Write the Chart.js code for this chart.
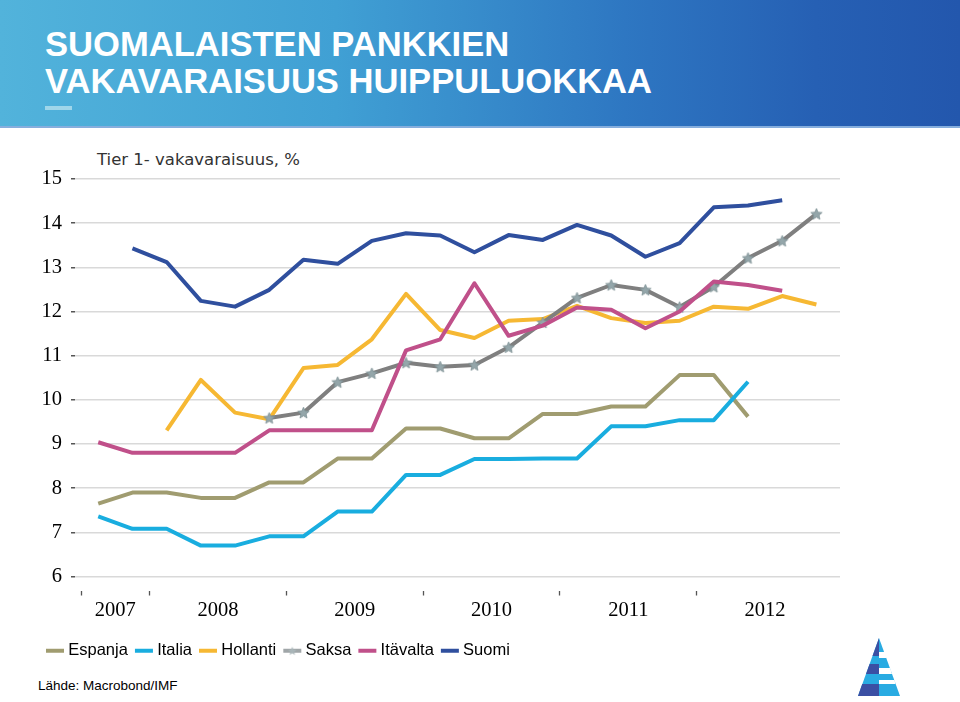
<!DOCTYPE html>
<html><head><meta charset="utf-8">
<script src="https://cdn.jsdelivr.net/npm/chart.js@4.4.1/dist/chart.umd.min.js"></script>
<style>
html,body{margin:0;padding:0;background:#fff;width:960px;height:702px;overflow:hidden;position:relative;font-family:"Liberation Sans",Arial,sans-serif}
#hdr{position:absolute;left:0;top:0;width:960px;height:128px;background:linear-gradient(90deg,#52b3db 0%,#40a0d4 35%,#2e77c2 65%,#2660b4 85%,#2357ad 100%)}
#hdr .strip{position:absolute;left:0;bottom:0;width:960px;height:2px;background:#86aedd}
.tt{position:absolute;left:45px;color:#fff;font-weight:bold;font-size:34.6px;line-height:34px;white-space:nowrap}
#t1{top:27px} #t2{top:64px}
#bar{position:absolute;left:45px;top:106px;width:27px;height:4px;background:#9fd6ea}
#sub{position:absolute;left:97px;top:152px;font-family:"DejaVu Sans",sans-serif;font-size:16.5px;line-height:16.5px;color:#333;white-space:nowrap}
#src{position:absolute;left:38px;top:679px;font-size:13.5px;line-height:13.5px;color:#000;white-space:nowrap}
#c{position:absolute;left:0;top:128px}
#logo{position:absolute;left:855px;top:634px}
</style></head>
<body>
<div id="hdr"><div class="strip"></div>
<div class="tt" id="t1">SUOMALAISTEN PANKKIEN</div>
<div class="tt" id="t2">VAKAVARAISUUS HUIPPULUOKKAA</div>
<div id="bar"></div></div>
<div id="sub">Tier 1- vakavaraisuus, %</div>
<canvas id="c" width="960" height="546"></canvas>
<div id="src">Lähde: Macrobond/IMF</div>
<svg id="logo" width="50" height="66" viewBox="0 0 50 66">
  <polygon points="24,4 3,62 45,62" fill="#29abe2"/>
  <polygon points="24,4 17.5,22 24,22" fill="#3b4fa3"/>
  <polygon points="14.6,30 24,30 24,40 11,40" fill="#3b4fa3"/>
  <polygon points="7.2,50 24,50 24,62 3,62" fill="#3b4fa3"/>
  <polygon points="24,18 30,18 31.8,24 24,24" fill="#fff"/>
  <polygon points="24,34 35.2,34 37,40 24,40" fill="#fff"/>
  <polygon points="24,46 39.5,46 40.5,50 24,50" fill="#fff"/>
</svg>
<script>
// ---- data ----
const quarters = ['2007Q3','2007Q4','2008Q1','2008Q2','2008Q3','2008Q4','2009Q1','2009Q2','2009Q3','2009Q4',
  '2010Q1','2010Q2','2010Q3','2010Q4','2011Q1','2011Q2','2011Q3','2011Q4','2012Q1','2012Q2','2012Q3','2012Q4'];
const espanja  = [7.65, 7.90, 7.90, 7.78, 7.78, 8.13, 8.13, 8.67, 8.67, 9.35, 9.35, 9.13, 9.13, 9.68, 9.68, 9.85, 9.85, 10.56, 10.56, 9.62, null, null];
const italia   = [7.36, 7.08, 7.08, 6.70, 6.70, 6.91, 6.91, 7.47, 7.47, 8.30, 8.30, 8.66, 8.66, 8.67, 8.67, 9.40, 9.40, 9.54, 9.54, 10.41, null, null];
const hollanti = [null, null, 9.31, 10.45, 9.71, 9.56, 10.72, 10.79, 11.37, 12.40, 11.58, 11.40, 11.79, 11.83, 12.13, 11.85, 11.74, 11.79, 12.11, 12.06, 12.35, 12.16];
const saksa    = [null, null, null, null, null, 9.59, 9.71, 10.40, 10.60, 10.84, 10.75, 10.79, 11.19, 11.75, 12.31, 12.60, 12.49, 12.10, 12.56, 13.21, 13.60, 14.21];
const itavalta = [9.04, 8.80, 8.80, 8.80, 8.80, 9.31, 9.31, 9.31, 9.31, 11.12, 11.37, 12.64, 11.45, 11.68, 12.09, 12.04, 11.62, 12.00, 12.68, 12.60, 12.47, null];
const suomi    = [null, 13.43, 13.12, 12.24, 12.11, 12.49, 13.17, 13.08, 13.60, 13.77, 13.72, 13.34, 13.73, 13.62, 13.96, 13.72, 13.24, 13.55, 14.36, 14.40, 14.52, null];
const seriesNames  = ['Espanja','Italia','Hollanti','Saksa','Itävalta','Suomi'];
const seriesValues = [espanja, italia, hollanti, saksa, itavalta, suomi];
const seriesColors = ['#a09c70','#19addf','#f6b833','#7f7f7f','#c0508a','#2f4f9e'];
const yTickValues  = [6,7,8,9,10,11,12,13,14,15];

// ---- year groups from quarters ----
const years = [];
quarters.forEach((q,i)=>{const y=q.slice(0,4);let g=years.find(o=>o.y===y);if(!g){g={y:y,first:i,last:i};years.push(g);}g.last=i;});
const boundaries = years.map(g=>g.first-0.5);
const centers = years.map(g=>(g.first+g.last)/2);
const xTickValues = boundaries.concat(centers).sort((a,b)=>a-b);

function starCanvas(size, fill, stroke){
  const c=document.createElement('canvas');c.width=c.height=size;
  const g=c.getContext('2d');const cx=size/2,cy=size/2+0.5,R=size/2-0.5,r=R*0.45;
  g.beginPath();
  for(let k=0;k<10;k++){const a=-Math.PI/2+k*Math.PI/5;const rr=k%2?r:R;g.lineTo(cx+rr*Math.cos(a),cy+rr*Math.sin(a));}
  g.closePath();g.fillStyle=fill;g.fill();if(stroke){g.strokeStyle=stroke;g.lineWidth=0.8;g.stroke();}
  return c;
}
const saksaStar = starCanvas(13, '#94a6aa', '#7f9296');

function legendIcon(color, withStar){
  const c=document.createElement('canvas');c.width=36;c.height=12;
  const g=c.getContext('2d');
  g.strokeStyle=withStar?'#a0a6a8':color;g.lineWidth=4;g.beginPath();g.moveTo(11,6);g.lineTo(29,6);g.stroke();
  if(withStar){g.drawImage(starCanvas(10,'#a9b5b8',null),15,1);}
  return c;
}
const legendIcons = seriesNames.map((n,i)=>legendIcon(seriesColors[i], n==='Saksa'));

const datasets = seriesNames.map((name,i)=>({
  label:name,
  data: seriesValues[i].map((v,k)=>({x:k,y:v})),
  borderColor: seriesColors[i],
  backgroundColor: seriesColors[i],
  borderWidth: 4,
  tension: 0,
  spanGaps: false,
  borderJoinStyle: 'round',
  pointRadius: name==='Saksa' ? 5 : 0,
  pointStyle: name==='Saksa' ? saksaStar : 'circle',
  order: seriesNames.length - i
}));

new Chart(document.getElementById('c'), {
  type: 'line',
  data: { datasets: datasets },
  options: {
    responsive: false,
    devicePixelRatio: 1,
    animation: false,
    events: [],
    layout: { padding: { top: 51, right: 120, bottom: 5, left: 39 } },
    scales: {
      x: {
        type: 'linear', min: -0.68, max: 21.69,
        afterBuildTicks: s => { s.ticks = xTickValues.map(v=>({value:v})); },
        afterFit: s => { s.height = 59; },
        border: { display: false },
        grid: {
          drawOnChartArea: false, drawTicks: true, tickLength: 19, tickWidth: 1.3,
          tickBorderDash: [0,14,5,100],
          tickColor: ctx => (ctx.tick && boundaries.includes(ctx.tick.value)) ? '#555' : 'rgba(0,0,0,0)'
        },
        ticks: {
          autoSkip: false, maxRotation: 0, minRotation: 0, padding: 3,
          color: '#000', font: { family: 'Liberation Serif', size: 20.5 },
          callback: v => { const c = centers.indexOf(v); return c >= 0 ? years[c].y : ''; }
        }
      },
      y: {
        min: 6, max: 15,
        afterBuildTicks: s => { s.ticks = yTickValues.map(v=>({value:v})); },
        afterFit: s => { s.width = 36; },
        border: { display: false },
        grid: { color: '#d9d9d9', lineWidth: 1.5, tickLength: 7, tickColor: '#555', tickWidth: 1.3, tickBorderDash: [0,3,4,100] },
        ticks: { color: '#000', padding: 6, font: { family: 'Liberation Serif', size: 20.5 } }
      }
    },
    plugins: {
      tooltip: { enabled: false },
      legend: {
        position: 'bottom', align: 'start',
        labels: {
          usePointStyle: true, pointStyleWidth: 14, padding: 7, color: '#000',
          font: { family: 'Liberation Sans', size: 16.5 },
          generateLabels: chart => chart.data.datasets.map((ds,i)=>({
            text: ds.label, pointStyle: legendIcons[i], fillStyle: 'rgba(0,0,0,0)', strokeStyle: 'rgba(0,0,0,0)',
            lineWidth: 0, hidden: false, datasetIndex: i, fontColor: '#000'
          }))
        }
      }
    }
  }
});
</script>
</body></html>
